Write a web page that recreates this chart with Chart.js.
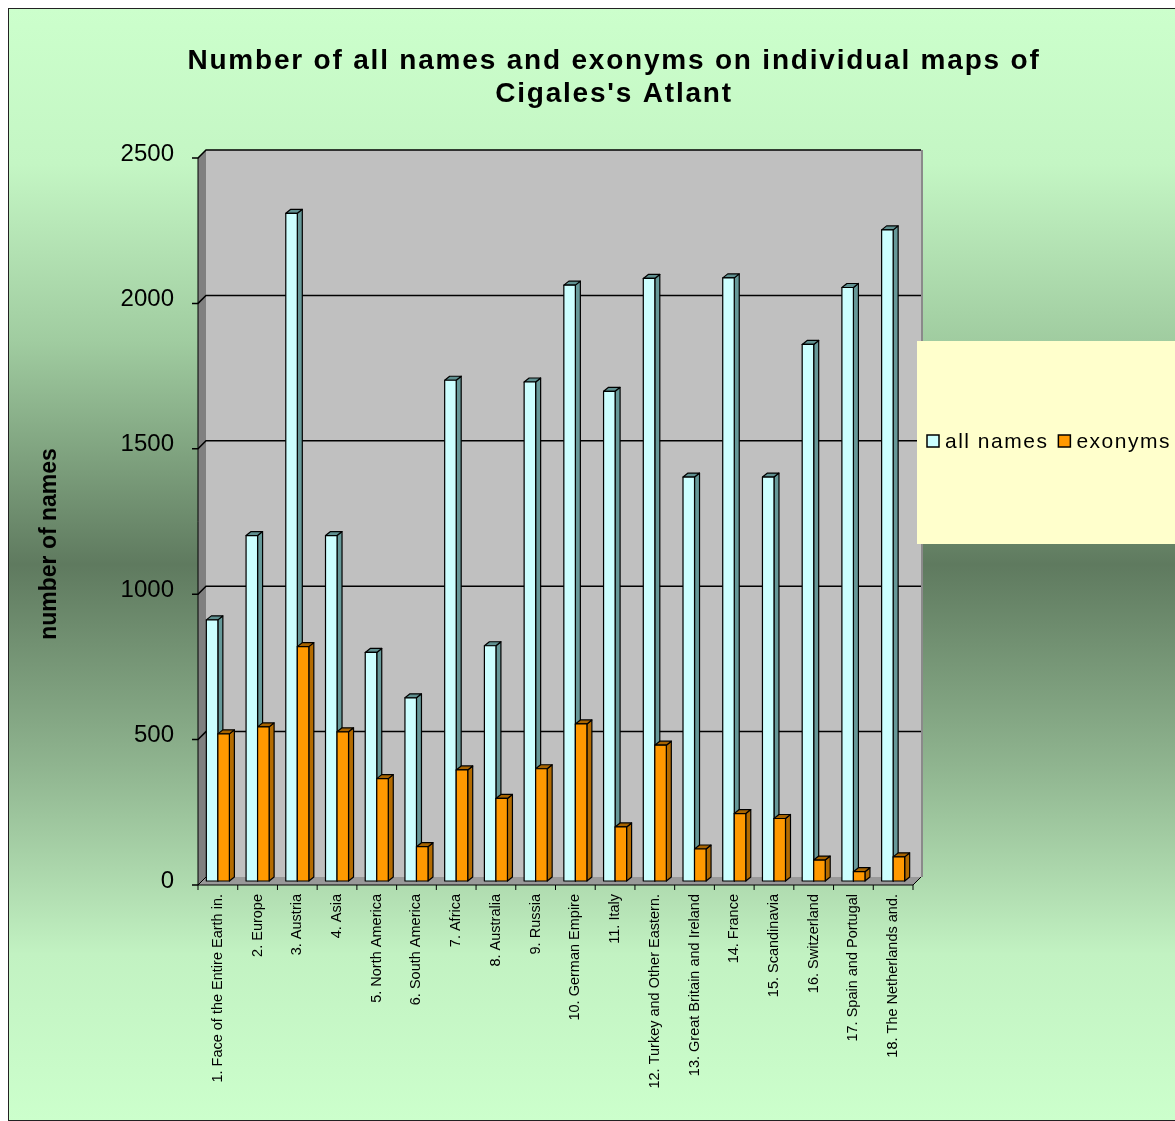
<!DOCTYPE html>
<html>
<head>
<meta charset="utf-8">
<script src="https://cdn.jsdelivr.net/npm/chart.js@4"></script>
<style>
  html, body { margin: 0; background: #fff; overflow: hidden; }
  #wrap { position: absolute; left: 8px; top: 8px; }
</style>
</head>
<body>
<div id="wrap"><canvas id="namesChart" width="1210" height="1113"></canvas></div>
<script>
const categories = [
  "1. Face of the Entire Earth in.", "2. Europe", "3. Austria", "4. Asia",
  "5. North America", "6. South America", "7. Africa", "8. Australia",
  "9. Russia", "10. German Empire", "11. Italy", "12. Turkey and Other Eastern.",
  "13. Great Britain and Ireland", "14. France", "15. Scandinavia",
  "16. Switzerland", "17. Spain and Portugal", "18. The Netherlands and."
];
const allNames = [898, 1188, 2296, 1188, 786, 630, 1722, 809, 1716, 2049, 1684, 2072, 1389, 2074, 1389, 1845, 2041, 2239];
const exonyms = [506, 530, 806, 513, 352, 118, 382, 284, 386, 540, 186, 467, 110, 232, 215, 72, 32, 83];
const yTicks = [0, 500, 1000, 1500, 2000, 2500];
const seriesNames = ["all names", "exonyms"];
const titleLines = ["Number of all names and exonyms on individual maps of", "Cigales's Atlant"];

const FONT = "'Liberation Sans', Arial, sans-serif";
// colours for front / side / top faces of the fake 3d bars
const faces = [
  { front: "#ccffff", side: "#669999", top: "#5f9090" },
  { front: "#ff9900", side: "#b36b00", top: "#a86400" }
];

function poly(ctx, pts, fill) {
  ctx.beginPath();
  ctx.moveTo(pts[0][0], pts[0][1]);
  for (let i = 1; i < pts.length; i++) ctx.lineTo(pts[i][0], pts[i][1]);
  ctx.closePath();
  ctx.fillStyle = fill;
  ctx.fill();
  ctx.stroke();
}

const excelLook = {
  id: "excelLook",
  beforeDraw(chart) {
    const { ctx, width, height, chartArea: a } = chart;
    const ys = chart.scales.y;
    ctx.save();
    const g = ctx.createLinearGradient(0, 0, 0, height);
    g.addColorStop(0, "#ccffcc");
    g.addColorStop(0.14, "#c4f6c4");
    g.addColorStop(0.3, "#a0cca0");
    g.addColorStop(0.5, "#5f7a5f");
    g.addColorStop(0.68, "#8fb48f");
    g.addColorStop(0.85, "#c2f2c2");
    g.addColorStop(1, "#ccffcc");
    ctx.fillStyle = g;
    ctx.fillRect(0, 0, width, height);

    const L = a.left, R = a.right;
    const T = ys.getPixelForValue(2500), B = ys.getPixelForValue(0);
    // back wall
    ctx.fillStyle = "#c0c0c0";
    ctx.fillRect(L + 8, T - 4, R - L, B - T);
    ctx.fillStyle = "#8a8a8a";
    ctx.fillRect(R + 8, T - 4, 2, B - T);
    // left wall and floor
    ctx.strokeStyle = "rgba(0,0,0,0)";
    poly(ctx, [[L, T + 4], [L + 8, T - 4], [L + 8, B - 4], [L, B + 4]], "#808080");
    poly(ctx, [[L, B + 4], [L + 8, B - 4], [R + 8, B - 4], [R, B + 4]], "#999999");

    // grid lines
    ctx.strokeStyle = "#000";
    ctx.lineWidth = 1.5;
    ctx.beginPath();
    yTicks.forEach(v => {
      const py = ys.getPixelForValue(v);
      ctx.moveTo(L - 6, py + 4);
      ctx.lineTo(L, py + 4);
      if (v > 0) {
        ctx.lineTo(L + 8, py - 4);
        ctx.lineTo(R + 8, py - 4);
      }
    });
    ctx.stroke();

    // left front edge + x axis line
    ctx.lineWidth = 1;
    ctx.beginPath();
    ctx.moveTo(L, T + 4);
    ctx.lineTo(L, B + 4);
    ctx.lineTo(R, B + 4);
    ctx.lineTo(R + 8, B - 4);
    ctx.moveTo(L, B + 4);
    ctx.lineTo(L + 8, B - 4);
    const n = categories.length;
    for (let i = 0; i <= n; i++) {
      const px = L + i * (R - L) / n;
      ctx.moveTo(px, B + 4);
      ctx.lineTo(px, B + 9);
    }
    ctx.stroke();
    ctx.restore();
  },
  afterDatasetsDraw(chart) {
    const ctx = chart.ctx;
    ctx.save();
    ctx.strokeStyle = "#000";
    ctx.lineWidth = 1.2;
    ctx.lineJoin = "round";
    chart.data.datasets.forEach((ds, di) => {
      const c = faces[di];
      chart.getDatasetMeta(di).data.forEach(bar => {
        const { x, y, base, width } = bar.getProps(["x", "y", "base", "width"], true);
        const l = x - width / 2, r = x + width / 2;
        const dx = 5, dy = -4;
        poly(ctx, [[r, y], [r + dx, y + dy], [r + dx, base + dy], [r, base]], c.side);
        poly(ctx, [[l, y], [l + dx, y + dy], [r + dx, y + dy], [r, y]], c.top);
        poly(ctx, [[l, y], [r, y], [r, base], [l, base]], c.front);
      });
    });
    ctx.restore();
  },
  afterDraw(chart) {
    const { ctx, width, height } = chart;
    ctx.save();
    // title (drawn by hand to get Excel's wide letter spacing)
    ctx.fillStyle = "#000";
    ctx.font = "bold 28px " + FONT;
    ctx.letterSpacing = "1.8px";
    ctx.textAlign = "center";
    ctx.textBaseline = "middle";
    ctx.fillText(titleLines[0], 606, 53);
    ctx.fillText(titleLines[1], 606, 86);

    // legend
    ctx.textAlign = "left";
    ctx.fillStyle = "#ffffcc";
    ctx.fillRect(909, 333, 400, 203);
    ctx.font = "21px " + FONT;
    ctx.letterSpacing = "1.5px";
    let lx = 919;
    const ly = 433;
    seriesNames.forEach((name, i) => {
      ctx.fillStyle = faces[i].front;
      ctx.strokeStyle = "#000";
      ctx.lineWidth = 1.5;
      ctx.fillRect(lx, ly - 6, 12, 12);
      ctx.strokeRect(lx, ly - 6, 12, 12);
      ctx.fillStyle = "#000";
      ctx.fillText(name, lx + 18, ly + 1);
      lx += 18 + ctx.measureText(name).width + 10;
    });

    // y axis title
    ctx.letterSpacing = "0px";
    ctx.translate(42, 536);
    ctx.rotate(-Math.PI / 2);
    ctx.font = "bold 23px " + FONT;
    ctx.textAlign = "center";
    ctx.fillText("number of names", 0, 0);
    ctx.restore();

    // outer frame
    ctx.save();
    ctx.strokeStyle = "#222";
    ctx.lineWidth = 1;
    ctx.strokeRect(0.5, 0.5, width - 1, height - 1);
    ctx.restore();
  }
};

new Chart(document.getElementById("namesChart"), {
  type: "bar",
  data: {
    labels: categories,
    datasets: [
      {
        label: seriesNames[0],
        data: allNames,
        backgroundColor: faces[0].front,
        borderColor: "#000",
        borderWidth: 1,
        categoryPercentage: 0.58,
        barPercentage: 1
      },
      {
        label: seriesNames[1],
        data: exonyms,
        backgroundColor: faces[1].front,
        borderColor: "#000",
        borderWidth: 1,
        categoryPercentage: 0.58,
        barPercentage: 1
      }
    ]
  },
  options: {
    responsive: false,
    animation: false,
    devicePixelRatio: 1,
    layout: { padding: { top: 146 } },
    plugins: {
      legend: { display: false },
      tooltip: { enabled: false },
      title: { display: false }
    },
    scales: {
      x: {
        grid: { display: false },
        border: { display: false },
        ticks: {
          color: "#000",
          font: { family: FONT, size: 14.5 },
          minRotation: 90,
          maxRotation: 90,
          autoSkip: false,
          padding: 5
        },
        afterFit: (s) => { s.height = 240; }
      },
      y: {
        min: 0,
        max: 2500,
        grid: { display: false },
        border: { display: false },
        ticks: {
          stepSize: 500,
          color: "#000",
          font: { family: FONT, size: 24 },
          padding: 16,
          callback: (v) => String(v)
        },
        afterFit: (s) => { s.width = 190; }
      },
      yR: {
        position: "right",
        grid: { display: false },
        border: { display: false },
        ticks: { display: false },
        afterFit: (s) => { s.width = 305; }
      }
    }
  },
  plugins: [excelLook]
});
</script>
</body>
</html>
